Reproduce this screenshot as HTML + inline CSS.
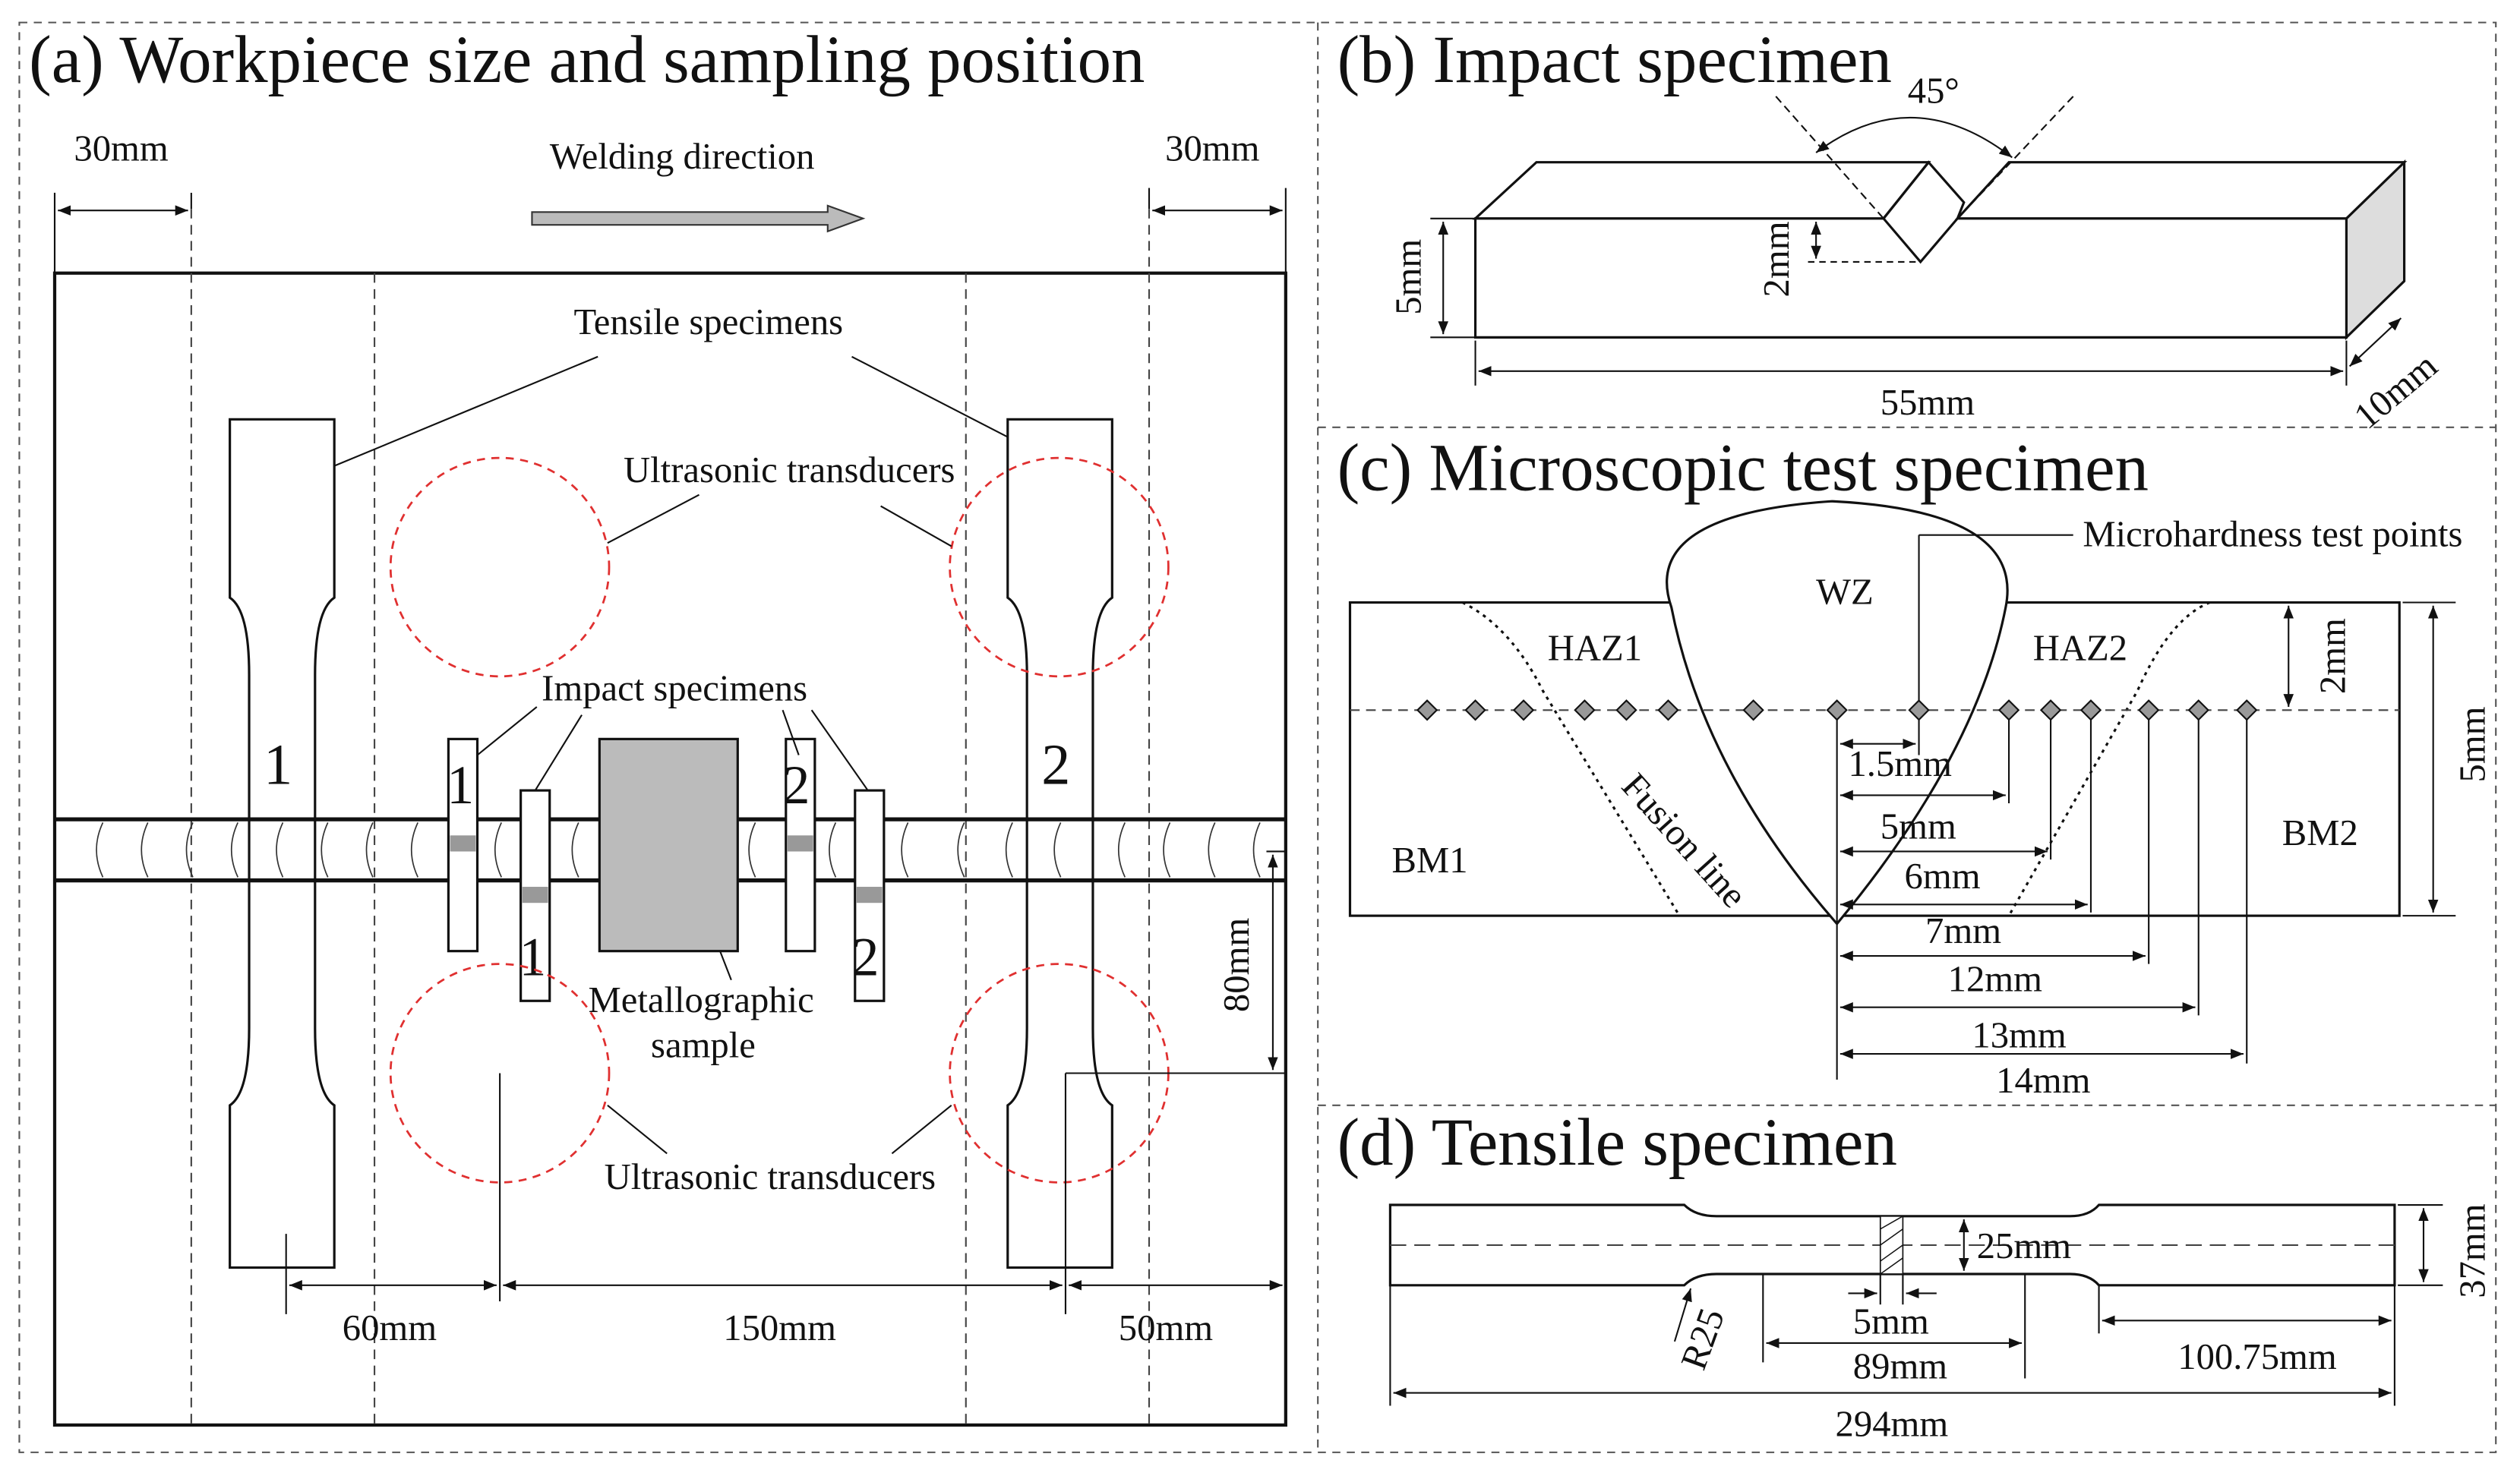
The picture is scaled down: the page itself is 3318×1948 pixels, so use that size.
<!DOCTYPE html>
<html><head><meta charset="utf-8"><style>
html,body{margin:0;padding:0;background:#fff}
svg{display:block}
text{font-family:"Liberation Serif",serif;fill:#111}
</style></head><body>
<svg width="3318" height="1948" viewBox="0 0 1568 920.6" xmlns="http://www.w3.org/2000/svg">
<defs>
<marker id="a" viewBox="0 0 10 10" refX="10" refY="5" markerWidth="8" markerHeight="8" orient="auto-start-reverse"><path d="M0,1 L10,5 L0,9 z" fill="#111"/></marker>
</defs>
<g fill="none" stroke="#555" stroke-width="1" stroke-dasharray="5,4">
<rect x="12" y="14" width="1541" height="890"/>
<line x1="820" y1="14" x2="820" y2="904"/>
<line x1="820" y1="266" x2="1553" y2="266"/>
<line x1="820" y1="688" x2="1553" y2="688"/>
</g>
<!-- Panel a -->
<text x="18" y="51" font-size="42">(a) Workpiece size and sampling position</text>
<text x="46" y="100" font-size="23">30mm</text>
<text x="725" y="100" font-size="23">30mm</text>
<text x="342" y="105" font-size="23">Welding direction</text>
<path d="M331,132 L515,132 L515,128 L537,136 L515,144 L515,140 L331,140 z" fill="#bbb" stroke="#333"/>
<g stroke="#111" stroke-width="1">
<line x1="34" y1="120" x2="34" y2="170"/><line x1="119" y1="120" x2="119" y2="130"/>
<line x1="36" y1="131" x2="117" y2="131" marker-start="url(#a)" marker-end="url(#a)"/>
<line x1="715" y1="117" x2="715" y2="130"/><line x1="800" y1="117" x2="800" y2="170"/>
<line x1="717" y1="131" x2="798" y2="131" marker-start="url(#a)" marker-end="url(#a)"/>
</g>
<rect x="34" y="170" width="766" height="717" fill="none" stroke="#111" stroke-width="2"/>
<g stroke="#444" stroke-dasharray="6,4"><line x1="119" y1="130" x2="119" y2="887"/><line x1="233" y1="170" x2="233" y2="887"/><line x1="601" y1="170" x2="601" y2="887"/><line x1="715" y1="130" x2="715" y2="887"/></g>
<!-- weld -->
<line x1="34" y1="510" x2="800" y2="510" stroke="#111" stroke-width="2.5"/>
<line x1="34" y1="548" x2="800" y2="548" stroke="#111" stroke-width="2.5"/>
<g fill="none" stroke="#333" stroke-width="0.8">
<path d="M64,512 q-8,17 0,34 M92,512 q-8,17 0,34 M120,512 q-8,17 0,34 M148,512 q-8,17 0,34 M176,512 q-8,17 0,34 M204,512 q-8,17 0,34 M232,512 q-8,17 0,34 M260,512 q-8,17 0,34 M312,512 q-8,17 0,34 M360,512 q-8,17 0,34 M470,512 q-8,17 0,34 M520,512 q-8,17 0,34 M565,512 q-8,17 0,34 M600,512 q-8,17 0,34 M630,512 q-8,17 0,34 M660,512 q-8,17 0,34 M700,512 q-8,17 0,34 M728,512 q-8,17 0,34 M756,512 q-8,17 0,34 M784,512 q-8,17 0,34"/>
</g>
<!-- tensile specimens -->
<g fill="none" stroke="#111" stroke-width="1.5">
<path d="M143,261 H208 V372 Q196,380 196,420 V640 Q196,680 208,688 V789 H143 V688 Q155,680 155,640 V420 Q155,380 143,372 Z"/>
<path d="M627,261 H692 V372 Q680,380 680,420 V640 Q680,680 692,688 V789 H627 V688 Q639,680 639,640 V420 Q639,380 627,372 Z"/>
</g>
<text x="164" y="488" font-size="36">1</text><text x="648" y="488" font-size="36">2</text>
<!-- impact specimens -->
<g stroke="#111" stroke-width="1.5" fill="#fff">
<rect x="279" y="460" width="18" height="132"/><rect x="324" y="492" width="18" height="131"/>
<rect x="489" y="460" width="18" height="132"/><rect x="532" y="492" width="18" height="131"/>
</g>
<g fill="#999"><rect x="280" y="520" width="16" height="10"/><rect x="325" y="552" width="16" height="10"/><rect x="490" y="520" width="16" height="10"/><rect x="533" y="552" width="16" height="10"/></g>
<text x="278" y="500" font-size="34">1</text><text x="323" y="607" font-size="34">1</text><text x="487" y="500" font-size="34">2</text><text x="530" y="607" font-size="34">2</text>
<rect x="373" y="460" width="86" height="132" fill="#bbb" stroke="#111" stroke-width="1.5"/>
<!-- circles -->
<g fill="none" stroke="#e03030" stroke-width="1.3" stroke-dasharray="5,4">
<circle cx="311" cy="353" r="68"/><circle cx="659" cy="353" r="68"/><circle cx="311" cy="668" r="68"/><circle cx="659" cy="668" r="68"/>
</g>
<text x="357" y="208" font-size="23">Tensile specimens</text>
<text x="388" y="300" font-size="23">Ultrasonic transducers</text>
<text x="337" y="436" font-size="23">Impact specimens</text>
<text x="366" y="630" font-size="23">Metallographic</text><text x="405" y="658" font-size="23">sample</text>
<text x="376" y="740" font-size="23">Ultrasonic transducers</text>
<g stroke="#111" stroke-width="1">
<line x1="208" y1="290" x2="372" y2="222"/><line x1="530" y1="222" x2="627" y2="272"/>
<line x1="378" y1="338" x2="435" y2="308"/><line x1="548" y1="315" x2="592" y2="340"/>
<line x1="297" y1="470" x2="334" y2="440"/><line x1="333" y1="492" x2="362" y2="445"/><line x1="487" y1="442" x2="497" y2="470"/><line x1="505" y1="442" x2="540" y2="492"/>
<line x1="448" y1="592" x2="455" y2="610"/>
<line x1="378" y1="688" x2="415" y2="718"/><line x1="555" y1="718" x2="592" y2="688"/>
<line x1="311" y1="668" x2="311" y2="810"/><line x1="178" y1="768" x2="178" y2="818"/>
<line x1="663" y1="668" x2="663" y2="818"/><line x1="800" y1="790" x2="800" y2="818"/>
<line x1="663" y1="668" x2="800" y2="668"/><line x1="788" y1="530" x2="800" y2="530"/>
<line x1="792" y1="532" x2="792" y2="666" marker-start="url(#a)" marker-end="url(#a)"/>
<line x1="180" y1="800" x2="309" y2="800" marker-start="url(#a)" marker-end="url(#a)"/>
<line x1="313" y1="800" x2="661" y2="800" marker-start="url(#a)" marker-end="url(#a)"/>
<line x1="665" y1="800" x2="798" y2="800" marker-start="url(#a)" marker-end="url(#a)"/>
</g>
<text x="213" y="834" font-size="23">60mm</text><text x="450" y="834" font-size="23">150mm</text><text x="696" y="834" font-size="23">50mm</text>
<text transform="translate(777,630) rotate(-90)" font-size="23">80mm</text>
<!-- Panel b -->
<text x="832" y="51" font-size="42">(b) Impact specimen</text>
<g stroke="#111" stroke-width="1.5" fill="#fff">
<path d="M1460,136 L1496,101 L1496,175 L1460,210 Z" fill="#ddd"/>
<path d="M918,136 L956,101 L1200,101 L1172,136 Z"/>
<path d="M1218,136 L1250,101 L1496,101 L1460,136 Z"/>
<path d="M918,136 H1172 L1195,163 L1218,136 H1460 V210 H918 Z"/>
<path d="M1172,136 L1200,101 L1222,126 L1218,136" fill="none"/>
</g>
<g stroke="#111" stroke-width="1">
<line x1="1105" y1="60" x2="1172" y2="136" stroke-dasharray="5,3"/><line x1="1290" y1="60" x2="1218" y2="136" stroke-dasharray="5,3"/>
<path d="M1130,95 Q1190,50 1252,98" fill="none" marker-start="url(#a)" marker-end="url(#a)"/>
<line x1="1125" y1="163" x2="1195" y2="163" stroke-dasharray="4,3"/>
<line x1="1130" y1="138" x2="1130" y2="161" marker-start="url(#a)" marker-end="url(#a)"/>
<line x1="890" y1="136" x2="918" y2="136"/><line x1="890" y1="210" x2="918" y2="210"/>
<line x1="898" y1="138" x2="898" y2="208" marker-start="url(#a)" marker-end="url(#a)"/>
<line x1="918" y1="212" x2="918" y2="240"/><line x1="1460" y1="212" x2="1460" y2="240"/>
<line x1="920" y1="231" x2="1458" y2="231" marker-start="url(#a)" marker-end="url(#a)"/>
<line x1="1462" y1="228" x2="1494" y2="198" marker-start="url(#a)" marker-end="url(#a)"/>
</g>
<text x="1187" y="64" font-size="23">45°</text>
<text transform="translate(1113,185) rotate(-90)" font-size="23">2mm</text>
<text transform="translate(884,196) rotate(-90)" font-size="23">5mm</text>
<text x="1170" y="258" font-size="23">55mm</text>
<text transform="translate(1473,268) rotate(-40)" font-size="23">10mm</text>
<!-- Panel c -->
<text x="832" y="305" font-size="42">(c) Microscopic test specimen</text>
<rect x="840" y="375" width="653" height="195" fill="none" stroke="#111" stroke-width="1.5"/>
<path d="M1040,378 Q1020,320 1140,312 Q1260,318 1248,378 Q1230,470 1143,575 Q1060,480 1040,378 Z" fill="#fff" stroke="#111" stroke-width="1.5"/>
<text x="1296" y="340" font-size="23">Microhardness test points</text>
<line x1="1194" y1="333" x2="1290" y2="333" stroke="#111"/><line x1="1194" y1="333" x2="1194" y2="438" stroke="#111"/>
<g stroke="#111" stroke-width="1.5" stroke-dasharray="2,3" fill="none">
<path d="M910,375 Q940,390 960,430 L1045,570"/><path d="M1375,375 Q1350,385 1330,430 L1250,570"/>
</g>
<line x1="840" y1="442" x2="1493" y2="442" stroke="#444" stroke-dasharray="6,4"/>
<g fill="#999" stroke="#111">
<path d="M888,436 l6,6 l-6,6 l-6,-6z M918,436 l6,6 l-6,6 l-6,-6z M948,436 l6,6 l-6,6 l-6,-6z M986,436 l6,6 l-6,6 l-6,-6z M1012,436 l6,6 l-6,6 l-6,-6z M1038,436 l6,6 l-6,6 l-6,-6z M1091,436 l6,6 l-6,6 l-6,-6z M1143,436 l6,6 l-6,6 l-6,-6z M1194,436 l6,6 l-6,6 l-6,-6z M1250,436 l6,6 l-6,6 l-6,-6z M1276,436 l6,6 l-6,6 l-6,-6z M1301,436 l6,6 l-6,6 l-6,-6z M1337,436 l6,6 l-6,6 l-6,-6z M1368,436 l6,6 l-6,6 l-6,-6z M1398,436 l6,6 l-6,6 l-6,-6z"/>
</g>
<text x="1130" y="376" font-size="23">WZ</text>
<text x="963" y="411" font-size="23">HAZ1</text><text x="1265" y="411" font-size="23">HAZ2</text>
<text x="866" y="543" font-size="23">BM1</text><text x="1420" y="526" font-size="23">BM2</text>
<text transform="translate(1008,490) rotate(48)" font-size="23">Fusion line</text>
<g stroke="#111" stroke-width="1">
<line x1="1143" y1="448" x2="1143" y2="672"/>
<line x1="1194" y1="448" x2="1194" y2="470"/>
<line x1="1145" y1="463" x2="1192" y2="463" marker-start="url(#a)" marker-end="url(#a)"/>
<line x1="1250" y1="448" x2="1250" y2="500"/><line x1="1145" y1="495" x2="1248" y2="495" marker-start="url(#a)" marker-end="url(#a)"/>
<line x1="1276" y1="448" x2="1276" y2="535"/><line x1="1145" y1="530" x2="1274" y2="530" marker-start="url(#a)" marker-end="url(#a)"/>
<line x1="1301" y1="448" x2="1301" y2="568"/><line x1="1145" y1="563" x2="1299" y2="563" marker-start="url(#a)" marker-end="url(#a)"/>
<line x1="1337" y1="448" x2="1337" y2="600"/><line x1="1145" y1="595" x2="1335" y2="595" marker-start="url(#a)" marker-end="url(#a)"/>
<line x1="1368" y1="448" x2="1368" y2="632"/><line x1="1145" y1="627" x2="1366" y2="627" marker-start="url(#a)" marker-end="url(#a)"/>
<line x1="1398" y1="448" x2="1398" y2="662"/><line x1="1145" y1="656" x2="1396" y2="656" marker-start="url(#a)" marker-end="url(#a)"/>
<line x1="1410" y1="375" x2="1440" y2="375"/><line x1="1424" y1="377" x2="1424" y2="440" marker-start="url(#a)" marker-end="url(#a)"/>
<line x1="1495" y1="375" x2="1528" y2="375"/><line x1="1495" y1="570" x2="1528" y2="570"/>
<line x1="1514" y1="377" x2="1514" y2="568" marker-start="url(#a)" marker-end="url(#a)"/>
</g>
<text x="1150" y="483" font-size="23">1.5mm</text><text x="1170" y="522" font-size="23">5mm</text><text x="1185" y="553" font-size="23">6mm</text>
<text x="1198" y="587" font-size="23">7mm</text><text x="1212" y="617" font-size="23">12mm</text><text x="1227" y="652" font-size="23">13mm</text><text x="1242" y="680" font-size="23">14mm</text>
<text transform="translate(1459,432) rotate(-90)" font-size="23">2mm</text>
<text transform="translate(1546,487) rotate(-90)" font-size="23">5mm</text>
<!-- Panel d -->
<text x="832" y="725" font-size="42">(d) Tensile specimen</text>
<path d="M865,750 H1048 Q1055,757 1068,757 H1288 Q1300,757 1306,750 H1490 V800 H1306 Q1300,793 1288,793 H1068 Q1055,793 1048,800 H865 Z" fill="#fff" stroke="#111" stroke-width="1.5"/>
<line x1="865" y1="775" x2="1490" y2="775" stroke="#444" stroke-dasharray="10,5"/>
<rect x="1170" y="757" width="14" height="36" fill="#fff" stroke="#111" stroke-width="0.8"/>
<path d="M1170,765 l14,-8 M1170,775 l14,-10 M1170,785 l14,-10 M1170,793 l14,-10" stroke="#111" stroke-width="0.7"/>
<g stroke="#111" stroke-width="1">
<line x1="1222" y1="759" x2="1222" y2="791" marker-start="url(#a)" marker-end="url(#a)"/>
<line x1="1492" y1="750" x2="1520" y2="750"/><line x1="1492" y1="800" x2="1520" y2="800"/>
<line x1="1508" y1="752" x2="1508" y2="798" marker-start="url(#a)" marker-end="url(#a)"/>
<line x1="1170" y1="793" x2="1170" y2="812"/><line x1="1184" y1="793" x2="1184" y2="812"/>
<line x1="1150" y1="805" x2="1168" y2="805" marker-end="url(#a)"/><line x1="1205" y1="805" x2="1186" y2="805" marker-end="url(#a)"/>
<line x1="1097" y1="793" x2="1097" y2="848"/><line x1="1260" y1="793" x2="1260" y2="858"/>
<line x1="1099" y1="836" x2="1258" y2="836" marker-start="url(#a)" marker-end="url(#a)"/>
<line x1="1306" y1="800" x2="1306" y2="830"/><line x1="1490" y1="800" x2="1490" y2="875"/>
<line x1="1308" y1="822" x2="1488" y2="822" marker-start="url(#a)" marker-end="url(#a)"/>
<line x1="865" y1="800" x2="865" y2="875"/>
<line x1="867" y1="867" x2="1488" y2="867" marker-start="url(#a)" marker-end="url(#a)"/>
<line x1="1042" y1="835" x2="1052" y2="802" marker-end="url(#a)"/>
</g>
<text x="1230" y="783" font-size="23">25mm</text>
<text x="1153" y="830" font-size="23">5mm</text><text x="1153" y="858" font-size="23">89mm</text>
<text x="1355" y="852" font-size="23">100.75mm</text><text x="1142" y="894" font-size="23">294mm</text>
<text transform="translate(1060,854) rotate(-70)" font-size="23">R25</text>
<text transform="translate(1546,808) rotate(-90)" font-size="23">37mm</text>
</svg>
</body></html>
